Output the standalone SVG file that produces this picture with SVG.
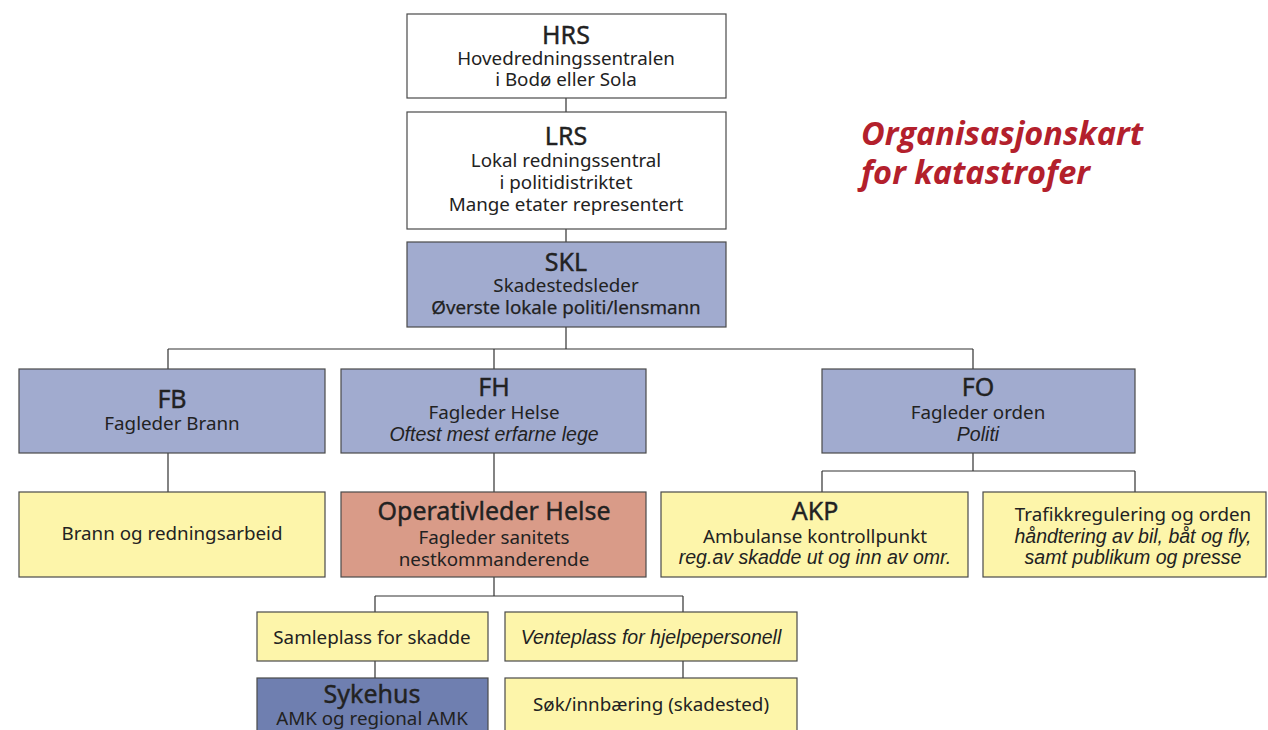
<svg xmlns="http://www.w3.org/2000/svg" width="1268" height="730" viewBox="0 0 1268 730">
<style>
.b{stroke:#4a4a4a;stroke-width:1.2}
.w{fill:#ffffff}
.p{fill:#a1abcf}
.y{fill:#fdf5aa}
.s{fill:#d99b88}
.d{fill:#6f7fb0}
text{font-family:"Noto Sans","Liberation Sans",sans-serif;fill:#222;text-anchor:middle}
.h{font-size:25px;stroke:#222;stroke-width:0.4}
.t{font-size:18.8px}
.m{stroke:#222;stroke-width:0.25}
.i{font-family:"Liberation Sans","Noto Sans",sans-serif;font-style:italic;font-size:19.5px}
.c{fill:none;stroke:#333;stroke-width:1.2}
.r{font-family:"Open Sans","Liberation Sans",sans-serif;font-size:32.5px;font-weight:bold;font-style:italic;fill:#b3202c;text-anchor:start}
</style>
<rect width="1268" height="730" fill="#ffffff"/>
<g id="connectors">
<path class="c" d="M566 98V112M566 229V242M566 327V349M168 349H973M168 349V369M494 349V369M973 349V369"/>
<path class="c" d="M168 453V492M494 453V492M973 453V471M822 471H1135M822 471V492M1135 471V492"/>
<path class="c" d="M494 577V596M375 596H683M375 596V612M683 596V612M375 661V678M683 661V678"/>
</g>
<g id="title">
<text class="r" x="861" y="145">Organisasjonskart</text>
<text class="r" x="861" y="184">for katastrofer</text>
</g>
<g id="HRS">
<rect class="b w" x="407" y="14" width="319" height="84"/>
<text class="h" x="566" y="44">HRS</text>
<text class="t" x="566" y="65">Hovedredningssentralen</text>
<text class="t" x="566" y="86">i Bodø eller Sola</text>
</g>
<g id="LRS">
<rect class="b w" x="407" y="112" width="319" height="117"/>
<text class="h" x="566" y="145">LRS</text>
<text class="t" x="566" y="167">Lokal redningssentral</text>
<text class="t" x="566" y="189">i politidistriktet</text>
<text class="t" x="566" y="211">Mange etater representert</text>
</g>
<g id="SKL">
<rect class="b p" x="407" y="242" width="319" height="85"/>
<text class="h" x="566" y="271">SKL</text>
<text class="t" x="566" y="292">Skadestedsleder</text>
<text class="t m" x="566" y="314">Øverste lokale politi/lensmann</text>
</g>
<g id="FB">
<rect class="b p" x="19" y="369" width="306" height="84"/>
<text class="h" x="172" y="408">FB</text>
<text class="t" x="172" y="430">Fagleder Brann</text>
</g>
<g id="FH">
<rect class="b p" x="341" y="369" width="305" height="84"/>
<text class="h" x="494" y="396">FH</text>
<text class="t" x="494" y="419">Fagleder Helse</text>
<text class="i" x="494" y="441">Oftest mest erfarne lege</text>
</g>
<g id="FO">
<rect class="b p" x="822" y="369" width="313" height="84"/>
<text class="h" x="978" y="396">FO</text>
<text class="t" x="978" y="419">Fagleder orden</text>
<text class="i" x="978" y="441">Politi</text>
</g>
<g id="Brann">
<rect class="b y" x="19" y="492" width="306" height="85"/>
<text class="t" x="172" y="540">Brann og redningsarbeid</text>
</g>
<g id="Operativleder">
<rect class="b s" x="341" y="492" width="305" height="85"/>
<text class="h" x="494" y="520">Operativleder Helse</text>
<text class="t" x="494" y="544">Fagleder sanitets</text>
<text class="t" x="494" y="566">nestkommanderende</text>
</g>
<g id="AKP">
<rect class="b y" x="661" y="492" width="307" height="85"/>
<text class="h" x="815" y="520">AKP</text>
<text class="t" x="815" y="543">Ambulanse kontrollpunkt</text>
<text class="i" x="815" y="564">reg.av skadde ut og inn av omr.</text>
</g>
<g id="Trafikk">
<rect class="b y" x="983" y="492" width="283" height="85"/>
<text class="t" x="1133" y="521">Trafikkregulering og orden</text>
<text class="i" x="1133" y="543">håndtering av bil, båt og fly,</text>
<text class="i" x="1133" y="564">samt publikum og presse</text>
</g>
<g id="Samleplass">
<rect class="b y" x="257" y="612" width="231" height="49"/>
<text class="t" x="372" y="644">Samleplass for skadde</text>
</g>
<g id="Venteplass">
<rect class="b y" x="505" y="612" width="292" height="49"/>
<text class="i" x="651" y="644">Venteplass for hjelpepersonell</text>
</g>
<g id="Sykehus">
<rect class="b d" x="257" y="678" width="231" height="60"/>
<text class="h" x="372" y="703">Sykehus</text>
<text class="t" x="372" y="725">AMK og regional AMK</text>
</g>
<g id="Sok">
<rect class="b y" x="505" y="678" width="292" height="60"/>
<text class="t" x="651" y="711">Søk/innbæring (skadested)</text>
</g>
</svg>
